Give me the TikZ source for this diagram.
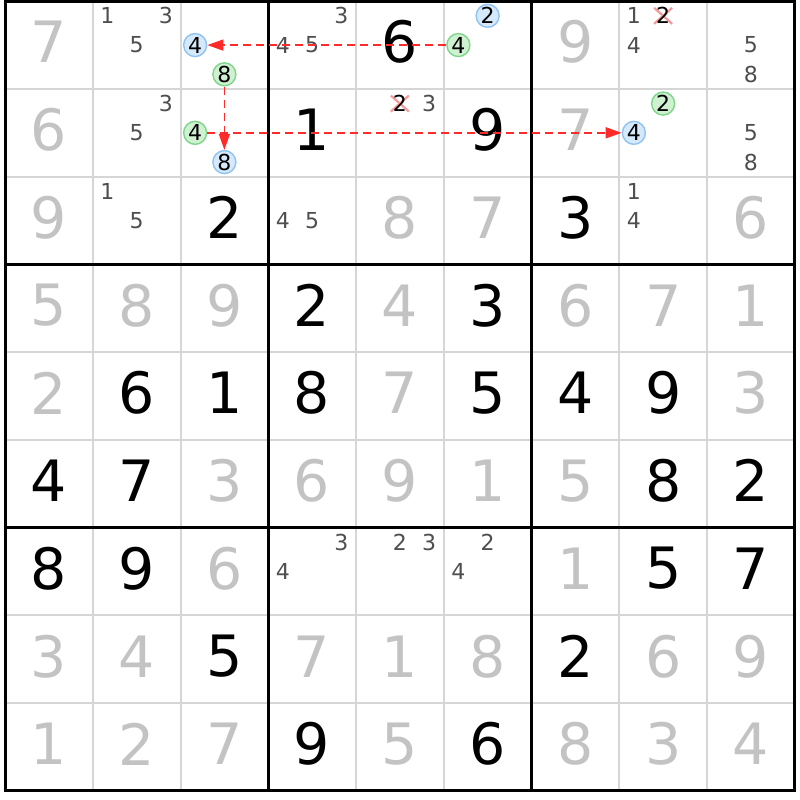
\documentclass[tikz,border=0pt]{standalone}
\usepackage{fontspec}
\setmainfont{DejaVu Sans}
\usetikzlibrary{arrows.meta}
\definecolor{givenc}{HTML}{000000}
\definecolor{solvedc}{HTML}{C3C3C3}
\definecolor{candc}{HTML}{4E4E4E}
\definecolor{thinc}{HTML}{D6D6D6}
\definecolor{bluefill}{HTML}{D6E9FB}
\definecolor{bluedraw}{HTML}{8EC3F2}
\definecolor{greenfill}{HTML}{CFF1D2}
\definecolor{greendraw}{HTML}{7ED68A}
\definecolor{arrowc}{HTML}{FF2A2A}
\definecolor{crossc}{HTML}{F39A9A}
\newcommand{\sudL}{5}
\newcommand{\sudT}{1.2}
\newcommand{\sudC}{87.75}
\newcommand{\candxy}[3]{%
  \pgfmathsetmacro\cx{\sudL+(#2-1)*\sudC+(mod(#3-1,3)+0.5)*\sudC/3}%
  \pgfmathsetmacro\cy{\sudT+(#1-1)*\sudC+(floor((#3-1)/3)+0.5)*\sudC/3}}
\newcommand{\cellxy}[2]{%
  \pgfmathsetmacro\gx{\sudL+(#2-0.5)*\sudC}%
  \pgfmathsetmacro\gy{\sudT+(#1-0.5)*\sudC}}
\tikzset{
  bigdigit/.style={inner sep=0pt, yshift=3pt, font=\fontsize{57}{60}\selectfont},
  given/.style={bigdigit, text=givenc},
  solved/.style={bigdigit, text=solvedc},
  cand/.style={inner sep=0pt, font=\fontsize{22}{24}\selectfont, text=candc},
  markdigit/.style={inner sep=0pt, font=\fontsize{22}{24}\selectfont, text=black},
  bluecirc/.style={markdigit, circle, minimum size=23pt, line width=1.4pt, draw=bluedraw, fill=bluefill},
  greencirc/.style={markdigit, circle, minimum size=23pt, line width=1.4pt, draw=greendraw, fill=greenfill},
  crossline/.style={draw=crossc, line width=2.2pt},
  thinline/.style={draw=thinc, line width=2pt},
  thickline/.style={draw=black, line width=3pt},
  linkarrow/.style={draw=arrowc, line width=1.5pt, dash pattern=on 8pt off 5pt,
    -{Triangle[length=16pt,width=11pt]}, shorten >=0pt}
}
\begin{document}
\begin{tikzpicture}[x=1pt,y=-1pt]
\useasboundingbox[fill=white] (0,0) rectangle (800,800);
% thin grid lines
\foreach \i in {1,2,4,5,7,8} {
  \draw[thinline] ({\sudL+\i*\sudC},\sudT) -- ({\sudL+\i*\sudC},{\sudT+9*\sudC});
  \draw[thinline] (\sudL,{\sudT+\i*\sudC}) -- ({\sudL+9*\sudC},{\sudT+\i*\sudC});
}
% thick box lines
\foreach \i in {3,6} {
  \draw[thickline] ({\sudL+\i*\sudC},\sudT) -- ({\sudL+\i*\sudC},{\sudT+9*\sudC});
  \draw[thickline] (\sudL,{\sudT+\i*\sudC}) -- ({\sudL+9*\sudC},{\sudT+\i*\sudC});
}
\draw[thickline] (\sudL,\sudT) rectangle ({\sudL+9*\sudC},{\sudT+9*\sudC});
% given digits (black)
\foreach \r/\c/\d in {1/5/6, 2/4/1, 2/6/9, 3/3/2, 3/7/3, 4/4/2, 4/6/3,
  5/2/6, 5/3/1, 5/4/8, 5/6/5, 5/7/4, 5/8/9, 6/1/4, 6/2/7, 6/8/8, 6/9/2,
  7/1/8, 7/2/9, 7/8/5, 7/9/7, 8/3/5, 8/7/2, 9/4/9, 9/6/6} {
  \cellxy{\r}{\c}
  \node[given] (g-\r-\c) at (\gx,\gy) {\d};
}
% solved digits (gray)
\foreach \r/\c/\d in {1/1/7, 1/7/9, 2/1/6, 2/7/7, 3/1/9, 3/5/8, 3/6/7, 3/9/6,
  4/1/5, 4/2/8, 4/3/9, 4/5/4, 4/7/6, 4/8/7, 4/9/1,
  5/1/2, 5/5/7, 5/9/3,
  6/3/3, 6/4/6, 6/5/9, 6/6/1, 6/7/5,
  7/3/6, 7/7/1,
  8/1/3, 8/2/4, 8/4/7, 8/5/1, 8/6/8, 8/8/6, 8/9/9,
  9/1/1, 9/2/2, 9/3/7, 9/5/5, 9/7/8, 9/8/3, 9/9/4} {
  \cellxy{\r}{\c}
  \node[solved] (s-\r-\c) at (\gx,\gy) {\d};
}
% plain candidates
\foreach \r/\c/\d in {1/2/1, 1/2/3, 1/2/5, 1/4/3, 1/4/4, 1/4/5, 1/8/1, 1/8/4,
  1/9/5, 1/9/8, 2/2/3, 2/2/5, 2/5/3, 2/9/5, 2/9/8, 3/2/1, 3/2/5, 3/4/4, 3/4/5,
  3/8/1, 3/8/4, 7/4/3, 7/4/4, 7/5/2, 7/5/3, 7/6/2, 7/6/4} {
  \candxy{\r}{\c}{\d}
  \node[cand] (n-\r-\c-\d) at (\cx,\cy) {\d};
}
% crossed-out candidates
\foreach \r/\c/\d in {1/8/2, 2/5/2} {
  \candxy{\r}{\c}{\d}
  \draw[crossline] ({\cx-9},{\cy-8}) -- ({\cx+9},{\cy+8});
  \draw[crossline] ({\cx-9},{\cy+8}) -- ({\cx+9},{\cy-8});
  \node[markdigit] (n-\r-\c-\d) at (\cx,\cy) {\d};
}
% blue circled candidates
\foreach \r/\c/\d in {1/3/4, 1/6/2, 2/3/8, 2/8/4} {
  \candxy{\r}{\c}{\d}
  \node[bluecirc] (n-\r-\c-\d) at (\cx,\cy) {\d};
}
% green circled candidates
\foreach \r/\c/\d in {1/3/8, 1/6/4, 2/3/4, 2/8/2} {
  \candxy{\r}{\c}{\d}
  \node[greencirc] (n-\r-\c-\d) at (\cx,\cy) {\d};
}
% links
\draw[linkarrow] (n-1-6-4) -- (n-1-3-4);
\draw[linkarrow] (n-1-3-8) -- (n-2-3-8);
\draw[linkarrow] (n-2-3-4) -- (n-2-8-4);
\end{tikzpicture}
\end{document}
